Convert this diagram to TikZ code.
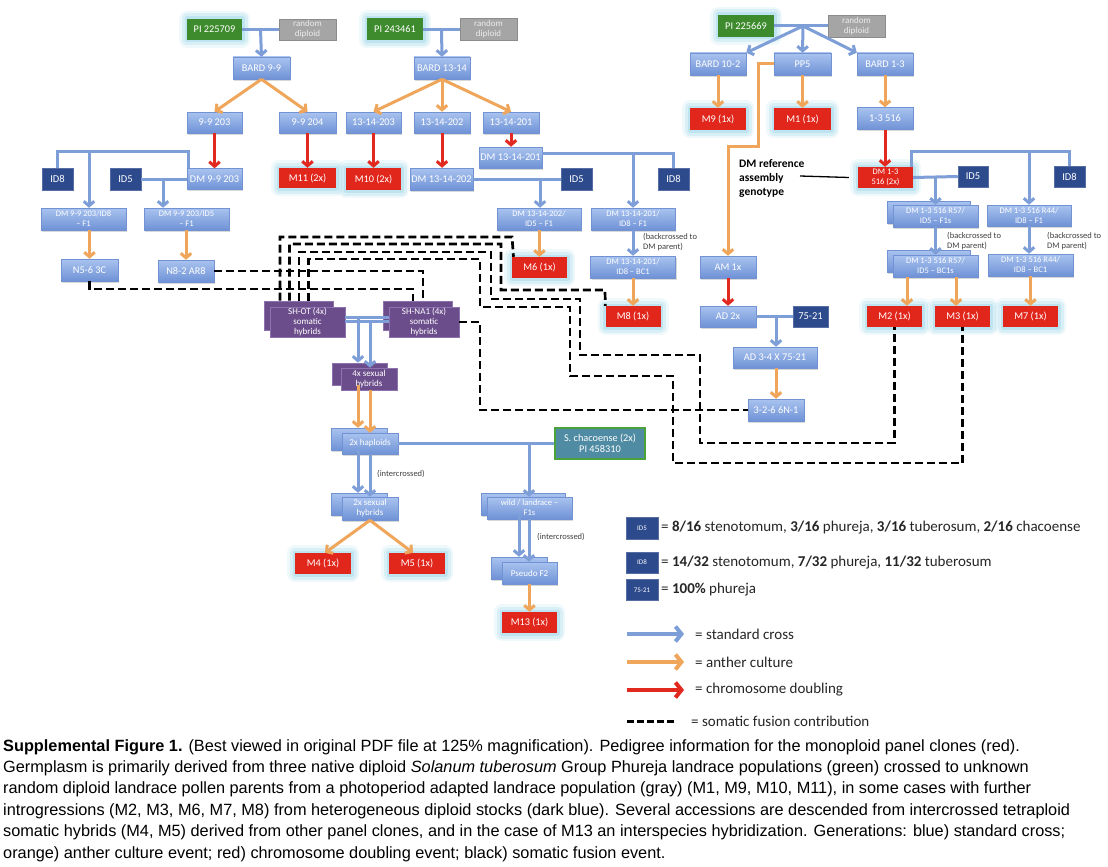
\documentclass[tikz,border=0pt]{standalone}
\usepackage{fontspec}
\setmainfont{Carlito}
\newfontfamily\capfont{Liberation Sans}
\usetikzlibrary{arrows.meta,shadows,calc}
\definecolor{bxtop}{HTML}{A9C3EF}
\definecolor{bxbot}{HTML}{6F92D6}
\definecolor{bxline}{HTML}{7193D3}
\definecolor{dkblue}{HTML}{2C4A8C}
\definecolor{grn}{HTML}{3E8B2E}
\definecolor{gry}{HTML}{A5A5A5}
\definecolor{gytext}{HTML}{EDEDED}
\definecolor{redc}{HTML}{E1261C}
\definecolor{purp}{HTML}{6B4D8B}
\definecolor{purpl}{HTML}{8C72AE}
\definecolor{teal1}{HTML}{4F8BA3}
\definecolor{grnb}{HTML}{4CA23A}
\definecolor{glowc}{HTML}{9ED8EA}
\definecolor{bluel}{HTML}{7E9ED8}
\definecolor{orng}{HTML}{EFA65B}
\definecolor{redar}{HTML}{E2291F}
\definecolor{notec}{HTML}{404040}
\definecolor{lgc}{HTML}{262626}
\begin{document}
\begin{tikzpicture}[x=1pt,y=-1pt,
 sz/.style 2 args={minimum width=#1pt, minimum height=#2pt},
 box/.style={rectangle, inner sep=0pt, align=center, text=white, font=\fontsize{10.3}{11}\selectfont},
 sm/.style={font=\fontsize{8.5}{10}\selectfont},
 nine/.style={font=\fontsize{9}{10}\selectfont},
 glow/.style={preaction={draw=glowc, line width=16pt, opacity=0.16, line join=round},
              preaction={draw=glowc, line width=11pt, opacity=0.28, line join=round},
              preaction={draw=glowc, line width=5pt, opacity=0.45, line join=round}},
 bb/.style={box, top color=bxtop, bottom color=bxbot, draw=bxline, line width=0.5pt,
            drop shadow={shadow xshift=1pt, shadow yshift=-1.5pt, opacity=0.3}},
 db/.style={box, fill=dkblue, draw=dkblue!80!white, line width=0.5pt, font=\fontsize{10.5}{11}\selectfont},
 gr/.style={box, fill=grn, glow},
 gy/.style={box, fill=gry, text=gytext, draw=gry!85!black, line width=0.5pt, font=\fontsize{9}{10}\selectfont},
 rd/.style={box, fill=redc, glow},
 pu/.style={box, fill=purp, draw=purpl, line width=0.6pt, font=\fontsize{9}{9.6}\selectfont},
 tl/.style={box, fill=teal1, draw=grnb, line width=1.6pt},
 note/.style={anchor=west, align=left, inner sep=0pt, text=notec, font=\fontsize{8.5}{10}\selectfont},
 lg/.style={anchor=west, inner sep=0pt, text=lgc, font=\fontsize{15}{17}\selectfont},
 ar/.style={line width=3pt, -{Straight Barb[length=4.5pt,width=10.5pt]}},
 ba/.style={ar, draw=bluel}, oa/.style={ar, draw=orng}, ra/.style={ar, draw=redar},
 bl/.style={draw=bluel, line width=3pt},
 dsh/.style={draw=black, line width=2.7pt, dash pattern=on 8pt off 4pt},
 lar/.style={line width=4pt, -{Straight Barb[length=6pt,width=15pt]}}
]
\useasboundingbox (0,0) rectangle (1108,867);
\fill[white] (0,0) rectangle (1108,867);

% ---------- top-left family
\node[gr,sz={55}{21}] (pi1) at (214.5,29.5) {PI 225709};
\node[gy,sz={57}{21}] (rd1) at (307.5,29.5) {random\\diploid};
\node[bb,sz={57}{22}] (bard99) at (261.5,68) {BARD 9-9};
\node[bb,sz={55}{21}] (b203) at (214.5,122.5) {9-9 203};
\node[bb,sz={57}{21}] (b204) at (307.5,122.5) {9-9 204};
\node[bb,sz={55}{21}] (dm99) at (214.5,179) {DM 9-9 203};
\node[rd,sz={57}{20}] (m11) at (307.5,178) {M11 (2x)};
\node[db,sz={31}{22}] (id8a) at (57.5,179) {ID8};
\node[db,sz={31}{22}] (id5a) at (125.5,179) {ID5};
\node[bb,sm,sz={85}{22}] (f1a) at (83.5,219) {DM 9-9 203/ID8\\– F1};
\node[bb,sm,sz={85}{22}] (f1b) at (186.5,219) {DM 9-9 203/ID5\\– F1};
\node[bb,sz={57}{22}] (n56) at (89.5,270) {N5-6 3C};
\node[bb,sz={56}{22}] (n82) at (186,271) {N8-2 AR8};

% ---------- middle family
\node[gr,sz={56}{22}] (pi2) at (395,29.5) {PI 243461};
\node[gy,sz={57}{22}] (rd2) at (488.5,29.5) {random\\diploid};
\node[bb,sz={56}{22}] (bard1314) at (442,68) {BARD 13-14};
\node[bb,sz={55}{21}] (c203) at (373.5,122.5) {13-14-203};
\node[bb,sz={56}{21}] (c202) at (442,122.5) {13-14-202};
\node[bb,sz={56}{21}] (c201) at (511,122.5) {13-14-201};
\node[rd,sz={55}{22}] (m10) at (373.5,179) {M10 (2x)};
\node[bb,sz={63}{22}] (dm202) at (441.5,179) {DM 13-14-202};
\node[bb,sz={63}{21}] (dm201) at (510.5,157.5) {DM 13-14-201};
\node[db,sz={31}{22}] (id5b) at (576.5,179) {ID5};
\node[db,sz={31}{22}] (id8b) at (673.5,179) {ID8};
\node[bb,sm,sz={84}{22}] (f1c) at (539,219) {DM 13-14-202/\\ID5 – F1};
\node[bb,sm,sz={84}{22}] (f1d) at (633,219) {DM 13-14-201/\\ID8 – F1};
\node[bb,sm,sz={85}{22}] (bc1d) at (633,267) {DM 13-14-201/\\ID8 – BC1};
\node[rd,sz={55}{21}] (m6) at (539.5,267.5) {M6 (1x)};
\node[rd,sz={55}{21}] (m8) at (633,316.5) {M8 (1x)};
\node[note] (bk1) at (643,242.5) {(backcrossed to\\DM parent)};

% ---------- right family
\node[gr,sz={56}{22}] (pi3) at (746,26) {PI 225669};
\node[gy,sz={57}{22}] (rd3) at (856.5,26) {random\\diploid};
\node[bb,sz={56}{22}] (bard102) at (718,64) {BARD 10-2};
\node[bb,sz={57}{22}] (pp5) at (802.5,64) {PP5};
\node[bb,sz={56}{22}] (bard13) at (885,64) {BARD 1-3};
\node[rd,sz={56}{22}] (m9) at (718,119) {M9 (1x)};
\node[rd,sz={57}{22}] (m1) at (802.5,119) {M1 (1x)};
\node[bb,sz={56}{22}] (b516) at (885,118.5) {1-3 516};
\node[rd,sm,sz={55}{21}] (dm516) at (885.5,177.5) {DM 1-3\\516 (2x)};
\node[db,sz={30}{21}] (id5c) at (973,176.5) {ID5};
\node[db,sz={31}{21}] (id8c) at (1069.5,176.5) {ID8};
\node[bb,sm,sz={83}{22}] (f1sB) at (928.5,212) {};
\node[bb,sm,sz={85}{22}] (f1s) at (935.5,216) {DM 1-3 516 R57/\\ID5 – F1s};
\node[bb,sm,sz={84}{21}] (f1r) at (1029,215.5) {DM 1-3 516 R44/\\ID8 – F1};
\node[bb,sm,sz={83}{22}] (bc1sB) at (928.5,261) {};
\node[bb,sm,sz={85}{22}] (bc1s) at (935.5,266) {DM 1-3 516 R57/\\ID5 – BC1s};
\node[bb,sm,sz={85}{22}] (bc1r) at (1030.5,265) {DM 1-3 516 R44/\\ID8 – BC1};
\node[note] (bk2) at (947,241) {(backcrossed to\\DM parent)};
\node[note] (bk3) at (1047,241) {(backcrossed to\\DM parent)};
\node[rd,sz={55}{21}] (m2) at (894.5,316.5) {M2 (1x)};
\node[rd,sz={55}{21}] (m3) at (962.5,316.5) {M3 (1x)};
\node[rd,sz={55}{21}] (m7) at (1030.5,316.5) {M7 (1x)};
\node[anchor=west, align=left, inner sep=0pt, font=\bfseries\fontsize{11.5}{14}\selectfont] (dmref) at (739,178) {DM reference\\assembly\\genotype};
\node[bb,sz={56}{22}] (am) at (728,267) {AM 1x};
\node[bb,sz={56}{21}] (ad) at (728,316.5) {AD 2x};
\node[db,sz={35}{21}] (s7521) at (810.5,316.5) {75-21};
\node[bb,sz={84}{21}] (ad34) at (775,357.5) {AD 3-4 X 75-21};
\node[bb,sz={56}{22}] (n326) at (776,410) {3-2-6 6N-1};

% ---------- somatic hybrids and descendants
\node[pu,sz={69}{29}] (shotB) at (298.5,315.5) {};
\node[pu,sz={75}{30}] (shot) at (307.5,322) {SH-OT (4x)\\somatic\\hybrids};
\node[pu,sz={69}{29}] (shnaB) at (417.5,315.5) {};
\node[pu,sz={70}{30}] (shna) at (424,322) {SH-NA1 (4x)\\somatic\\hybrids};
\node[pu,sz={55}{22}] (sex4B) at (359.5,374) {};
\node[pu,sz={56}{22}] (sex4) at (369,379) {4x sexual\\hybrids};
\node[bb,nine,sz={56}{22}] (hapB) at (359,439) {};
\node[bb,nine,sz={56}{21}] (hap) at (370,443.5) {2x haploids};
\node[tl,sz={90}{31}] (chac) at (600,443.5) {S. chacoense (2x)\\PI 458310};
\node[bb,nine,sz={56}{22}] (sex2B) at (359,504) {};
\node[bb,nine,sz={56}{23}] (sex2) at (370,508.5) {2x sexual\\hybrids};
\node[rd,sz={56}{21}] (m4) at (323,563.5) {M4 (1x)};
\node[rd,sz={56}{21}] (m5) at (417,563.5) {M5 (1x)};
\node[bb,sm,sz={84}{22}] (wildB) at (523,504) {};
\node[bb,sm,sz={85}{22}] (wild) at (529.5,508) {wild / landrace –\\F1s};
\node[bb,nine,sz={56}{22}] (pf2B) at (519,568) {};
\node[bb,nine,sz={55}{22}] (pf2) at (529.5,573) {Pseudo F2};
\node[rd,sz={55}{21}] (m13) at (529.5,622.5) {M13 (1x)};
\node[note] (ic1) at (377,474) {(intercrossed)};
\node[note] (ic2) at (537,537) {(intercrossed)};

% ---------- connectors: top-left
\draw[bl] (pi1.east) -- (rd1.west);
\coordinate (j1) at ($(pi1.east)!0.5!(rd1.west)$);
\draw[ba] (j1) -- (bard99.north);
\draw[oa] (bard99.south) -- (b203.north);
\draw[oa] (bard99.south) -- (b204.north);
\draw[ra] (b203.south) -- (dm99.north);
\draw[ra] (b204.south) -- (m11.north);
\draw[bl] ([xshift=1.5pt]dm99.north west) |- ([yshift=16pt]id8a.north) -- (id8a.north);
\coordinate (j8a) at (89,152);
\draw[ba] (j8a) -- (j8a |- f1a.north);
\draw[bl] (id5a.east) -- (dm99.west);
\coordinate (j5a) at (163,179);
\draw[ba] (j5a) -- (j5a |- f1b.north);
\draw[oa] (f1a.south -| n56.north) -- (n56.north);
\draw[oa] (f1b.south -| n82.north) -- (n82.north);

% middle
\draw[bl] (pi2.east) -- (rd2.west);
\coordinate (j2) at ($(pi2.east)!0.5!(rd2.west)$);
\draw[ba] (j2) -- (bard1314.north);
\draw[oa] (bard1314.south) -- (c203.north);
\draw[oa] (bard1314.south) -- (c202.north);
\draw[oa] (bard1314.south) -- (c201.north);
\draw[ra] (c203.south) -- (m10.north);
\draw[ra] (c202.south) -- (c202.south |- dm202.north);
\draw[ra] (c201.south) -- (c201.south |- dm201.north);
\draw[bl] (dm202.east) -- (id5b.west);
\coordinate (j5b) at (540,179);
\draw[ba] (j5b) -- (j5b |- f1c.north);
\draw[bl] ([yshift=4pt]dm201.east) -| (id8b.north);
\coordinate (j8b) at (633,153.5);
\draw[ba] (j8b) -- (j8b |- f1d.north);
\draw[oa] (f1c.south -| m6.north) -- (m6.north);
\draw[ba] (f1d.south) -- (bc1d.north);
\draw[oa] (bc1d.south) -- (m8.north);

% right
\draw[bl] (pi3.east) -- (rd3.west);
\coordinate (j3) at (803,26);
\draw[ba] (j3) -- (bard102.north east);
\draw[ba] (j3) -- (pp5.north);
\draw[ba] (j3) -- (bard13.north west);
\draw[oa] (bard102.south) -- (m9.north);
\draw[oa] (pp5.south) -- (m1.north);
\draw[oa] (bard13.south) -- (b516.north);
\draw[ra] (b516.south) -- (b516.south |- dm516.north);
\draw[oa] (pp5.west) -- (758,64) -- (758,146) -- (728,146) -- (am.north);
\coordinate (refl) at (800,176);
\draw[black, line width=1.3pt] (refl) -- ([xshift=-9pt]dm516.west);
\draw[bl] (dm516.east) -- (id5c.west);
\coordinate (j5c) at (935.5,177);
\draw[ba] (j5c) -- (j5c |- f1s.north);
\draw[bl] ([xshift=-1.5pt]dm516.north east) |- ([yshift=14pt]id8c.north) -- (id8c.north);
\coordinate (j8c) at (1029,152);
\draw[ba] (j8c) -- (j8c |- f1r.north);
\draw[ba] (f1s.south) -- (bc1s.north);
\draw[ba] (f1r.south) -- (f1r.south |- bc1r.north);
\coordinate (m2t) at ([xshift=12.5pt]m2.north);
\coordinate (m3t) at ([xshift=-6.5pt]m3.north);
\draw[oa] (m2t |- bc1s.south) -- (m2t);
\draw[oa] (m3t |- bc1s.south) -- (m3t);
\draw[oa] (bc1r.south) -- (bc1r.south |- m7.north);
\draw[ra] (am.south) -- (ad.north);
\draw[bl] (ad.east) -- (s7521.west);
\coordinate (jad) at (776,316.5);
\draw[ba] (jad) -- (jad |- ad34.north);
\draw[oa] (ad34.south -| n326.north) -- (n326.north);

% somatic and below
\draw[bl] ([yshift=5pt]shot.east) -- ([yshift=5pt]shna.west);
\draw[bl] ([yshift=1pt]shot.east) -- ([yshift=1pt]shna.west);
\coordinate (js1) at (358,317);
\coordinate (js2) at (370,321);
\draw[ba] (js1) -- (js1 |- sex4B.north);
\draw[ba] (js2) -- (js2 |- sex4.north);
\draw[oa] (js1 |- sex4B.south) -- (js1 |- hapB.north);
\draw[oa] (js2 |- sex4.south) -- (js2 |- hap.north);
\draw[ba] (js1 |- hapB.south) -- (js1 |- sex2B.north);
\draw[ba] (js2 |- hap.south) -- (js2 |- sex2.north);
\draw[bl] (hap.east) -- (chac.west);
\coordinate (jw) at (529,443.5);
\draw[ba] (jw) -- (jw |- wild.north);
\draw[oa] (sex2.south) -- ([xshift=2pt]m4.north);
\draw[oa] (sex2.south) -- ([xshift=-4pt]m5.north);
\coordinate (jp1) at (519,0);
\coordinate (jp2) at (529,0);
\draw[ba] (jp1 |- wildB.south) -- (jp1 |- pf2B.north);
\draw[ba] (jp2 |- wild.south) -- (jp2 |- pf2.north);
\draw[oa] (pf2.south) -- (m13.north);

% somatic fusion contributions (dashed)
\draw[dsh] ([xshift=-18.5pt]shotB.north) |- (512,237) -- ([xshift=-26pt]m6.north);
\draw[dsh] ([xshift=-9pt]shotB.north) |- (501,244) |- (605,290) -- (m8.north west);
\draw[dsh] ([xshift=0.5pt]shotB.north) |- (491,252) |- (580,299) |- (700,355) |- (894.5,443) -- (m2.south);
\draw[dsh] ([xshift=10pt]shotB.north) |- (480,259) |- (570,307) |- (673,376) |- (962.5,463) -- (m3.south);
\draw[dsh] (n82.east) -| ([xshift=5.5pt]shnaB.north);
\draw[dsh] (n56.south) |- (413,289) -- ([xshift=-4.5pt]shnaB.north);
\draw[dsh] (shna.east) -| (480,410) -- (n326.west);

% ---------- legend
\node[db,font=\fontsize{7}{8}\selectfont,sz={32}{22}] (lid5) at (642,528) {ID5};
\node[lg] (tid5) at (661,528) {= \textbf{8/16} stenotomum, \textbf{3/16} phureja, \textbf{3/16} tuberosum, \textbf{2/16} chacoense};
\node[db,font=\fontsize{7}{8}\selectfont,sz={32}{21}] (lid8) at (642,562.5) {ID8};
\node[lg] (tid8) at (661,563) {= \textbf{14/32} stenotomum, \textbf{7/32} phureja, \textbf{11/32} tuberosum};
\node[db,font=\fontsize{7}{8}\selectfont,sz={32}{21}] (l7521) at (642,590) {75-21};
\node[lg] (t7521) at (661,590) {= \textbf{100\%} phureja};
\coordinate (la1) at (627,634); \coordinate (lb1) at (684,634);
\coordinate (la2) at (627,662); \coordinate (lb2) at (684,662);
\coordinate (la3) at (627,690); \coordinate (lb3) at (684,690);
\coordinate (la4) at (627,721); \coordinate (lb4) at (675,721);
\draw[lar, draw=bluel] (la1) -- (lb1);
\draw[lar, draw=orng] (la2) -- (lb2);
\draw[lar, draw=redar] (la3) -- (lb3);
\draw[dsh, line width=3pt, dash pattern=on 7pt off 3pt] (la4) -- (lb4);
\node[lg] (tsc) at (695,634) {= standard cross};
\node[lg] (tac) at (695,662) {= anther culture};
\node[lg] (tcd) at (695,690) {= chromosome doubling};
\node[lg] (tsf) at (691,721) {= somatic fusion contribution};

% ---------- caption
\node[anchor=north west, align=left, inner sep=0pt, font=\capfont\fontsize{16.3}{21.4}\selectfont] (cap) at (3,739)
{\textbf{Supplemental Figure 1.} (Best viewed in original PDF file at 125\% magnification). Pedigree information for the monoploid panel clones (red).\\
Germplasm is primarily derived from three native diploid \textit{Solanum tuberosum} Group Phureja landrace populations (green) crossed to unknown\\
random diploid landrace pollen parents from a photoperiod adapted landrace population (gray) (M1, M9, M10, M11), in some cases with further\\
introgressions (M2, M3, M6, M7, M8) from heterogeneous diploid stocks (dark blue). Several accessions are descended from intercrossed tetraploid\\
somatic hybrids (M4, M5) derived from other panel clones, and in the case of M13 an interspecies hybridization. Generations: blue) standard cross;\\
orange) anther culture event; red) chromosome doubling event; black) somatic fusion event.};
\end{tikzpicture}
\end{document}
